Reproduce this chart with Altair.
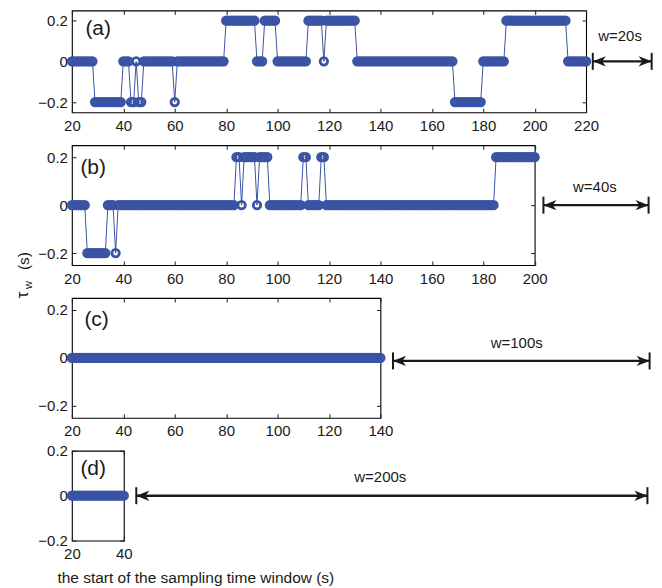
import altair as alt
import pandas as pd

BLUE = "#3a53a4"
INK = "#1a1a1a"
FONT = "Liberation Sans"

# step readings per panel: (first second, last second, tau_w in s)
runs_a = [(20, 28, 0), (29, 39, -0.2), (40, 42, 0), (43, 44, -0.2), (45, 45, 0),
          (46, 47, -0.2), (48, 59, 0), (60, 60, -0.2), (61, 79, 0), (80, 91, 0.2),
          (92, 94, 0), (95, 99, 0.2), (100, 111, 0), (112, 117, 0.2), (118, 118, 0),
          (119, 130, 0.2), (131, 168, 0), (169, 179, -0.2), (180, 188, 0),
          (189, 212, 0.2), (213, 220, 0)]
runs_b = [(20, 25, 0), (26, 33, -0.2), (34, 36, 0), (37, 37, -0.2), (38, 83, 0),
          (84, 85, 0.2), (86, 86, 0), (87, 91, 0.2), (92, 92, 0), (93, 96, 0.2),
          (97, 109, 0), (110, 111, 0.2), (112, 116, 0), (117, 118, 0.2),
          (119, 184, 0), (185, 200, 0.2)]
runs_c = [(20, 140, 0)]
runs_d = [(20, 40, 0)]

panel_names = ["(a)", "(b)", "(c)", "(d)"]
x_max = [220, 200, 140, 40]
y_lim = [0.25, 0.25, 0.25, 0.2]
x_ticks = [list(range(20, 221, 20)), list(range(20, 201, 20)),
           list(range(20, 141, 20)), [20, 40]]
y_ticks = [-0.2, 0, 0.2]
window_text = ["w=20s", "w=40s", "w=100s", "w=200s"]
arrow_start = [222.6, 203.4, 144.9, 44.8]
arrow_end = [245.5, 244.3, 244.7, 241.7]
arrow_y = [0, 0, -0.0125, 0]
wtext_x = [233.2, 223.4, 193.0, 138.8]
wtext_y = [0.124, 0.075, 0.0625, 0.082]

widths = [515, 463.5, 309, 52]
heights = [102, 120, 120, 90]
label_pos = [(13.5, 19), (8.5, 23.3), (12.5, 21.6), (8.5, 18.3)]

HEAD_L = "M 0 0 L 1 -0.4 L 0.72 0 L 1 0.4 Z"
HEAD_R = "M 0 0 L -1 -0.4 L -0.72 0 L -1 0.4 Z"


def expand(runs):
    t, v = [], []
    for s, e, val in runs:
        for k in range(s, e + 1):
            t.append(k)
            v.append(val)
    return pd.DataFrame({"t": t, "tau": v})


def axis(orient, values, labels, pad, fmt=None):
    kw = dict(orient=orient, values=values, labels=labels, offset=-4, tickSize=4,
              tickColor=INK, tickWidth=1, domain=False, grid=False, title=None,
              labelFont=FONT, labelFontSize=15, labelColor=INK, labelPadding=pad,
              labelFlush=False, labelOverlap=False)
    if fmt:
        kw["format"] = fmt
    return alt.Axis(**kw)


def panel(i, runs, extra=None):
    df = expand(runs)
    xs = alt.Scale(domain=[20, x_max[i]], nice=False, zero=False)
    ys = alt.Scale(domain=[-y_lim[i], y_lim[i]], nice=False, zero=False)

    line = alt.Chart(df).mark_line(color=BLUE, strokeWidth=1).encode(
        x=alt.X("t:Q", scale=xs, axis=axis("bottom", x_ticks[i], True, 6)),
        y=alt.Y("tau:Q", scale=ys, axis=axis("left", y_ticks, True, 4.5, "~g")),
    )
    pts = alt.Chart(df).mark_point(shape="circle", filled=False, size=56, strokeWidth=2.8,
                                   color=BLUE, opacity=1).encode(
        x=alt.X("t:Q", scale=xs, axis=axis("top", x_ticks[i], False, 2)),
        y=alt.Y("tau:Q", scale=ys, axis=axis("right", y_ticks, False, 2)),
    )
    adf = pd.DataFrame({"x0": [arrow_start[i]], "x1": [arrow_end[i]], "y": [arrow_y[i]],
                        "lx": [wtext_x[i]], "ly": [wtext_y[i]], "txt": [window_text[i]]})
    edf = pd.DataFrame({"x": [arrow_start[i], arrow_end[i]], "y": [arrow_y[i]] * 2})

    shaft = alt.Chart(adf).mark_rule(color=INK, strokeWidth=2.4).encode(
        x=alt.X("x0:Q", scale=xs, axis=None), x2="x1:Q",
        y=alt.Y("y:Q", scale=ys, axis=None))
    bars = alt.Chart(edf).mark_tick(orient="vertical", size=17, thickness=2, color=INK,
                                    opacity=1).encode(
        x=alt.X("x:Q", scale=xs, axis=None), y=alt.Y("y:Q", scale=ys, axis=None))
    head_l = alt.Chart(adf).mark_point(shape=HEAD_L, filled=True, size=680, color=INK,
                                       opacity=1, strokeWidth=0).encode(
        x=alt.X("x0:Q", scale=xs, axis=None), y=alt.Y("y:Q", scale=ys, axis=None))
    head_r = alt.Chart(adf).mark_point(shape=HEAD_R, filled=True, size=680, color=INK,
                                       opacity=1, strokeWidth=0).encode(
        x=alt.X("x1:Q", scale=xs, axis=None), y=alt.Y("y:Q", scale=ys, axis=None))
    wtext = alt.Chart(adf).mark_text(font=FONT, fontSize=15, color=INK,
                                     baseline="middle").encode(
        x=alt.X("lx:Q", scale=xs, axis=None), y=alt.Y("ly:Q", scale=ys, axis=None),
        text="txt:N")
    lx, ly = label_pos[i]
    plabel = alt.Chart(adf).mark_text(font=FONT, fontSize=21, color=INK, align="left",
                                      baseline="middle", text=panel_names[i]).encode(
        x=alt.value(lx), y=alt.value(ly))
    layers = [line, pts, shaft, bars, head_l, head_r, wtext, plabel]
    if extra:
        layers += extra(adf)
    return alt.layer(*layers).properties(width=widths[i], height=heights[i]).resolve_axis(
        x="independent", y="independent")


def ytitle(adf):
    base = alt.Chart(adf)
    return [
        base.mark_text(font=FONT, fontSize=17, color=INK, angle=270, baseline="middle",
                       align="center", text="τ").encode(x=alt.value(-48.5), y=alt.value(150)),
        base.mark_text(font=FONT, fontSize=11, color=INK, angle=270, baseline="middle",
                       align="center", text="w").encode(x=alt.value(-43), y=alt.value(140)),
        base.mark_text(font=FONT, fontSize=15.5, color=INK, angle=270, baseline="middle",
                       align="center", text="(s)").encode(x=alt.value(-48), y=alt.value(116)),
    ]


def xtitle(adf):
    return [alt.Chart(adf).mark_text(font=FONT, fontSize=15.5, color=INK, align="left",
                                     baseline="middle",
                                     text="the start of the sampling time window (s)").encode(
        x=alt.value(-14.5), y=alt.value(127))]


chart = alt.vconcat(
    panel(0, runs_a),
    panel(1, runs_b, ytitle),
    panel(2, runs_c),
    panel(3, runs_d, xtitle),
    spacing=33, bounds="flush",
).properties(
    padding={"left": 5, "top": 0, "right": 0, "bottom": 0},
    background="white",
).configure_view(stroke="black", strokeWidth=1.1)

chart.save("out.html", embed_options={"renderer": "svg", "actions": False})
